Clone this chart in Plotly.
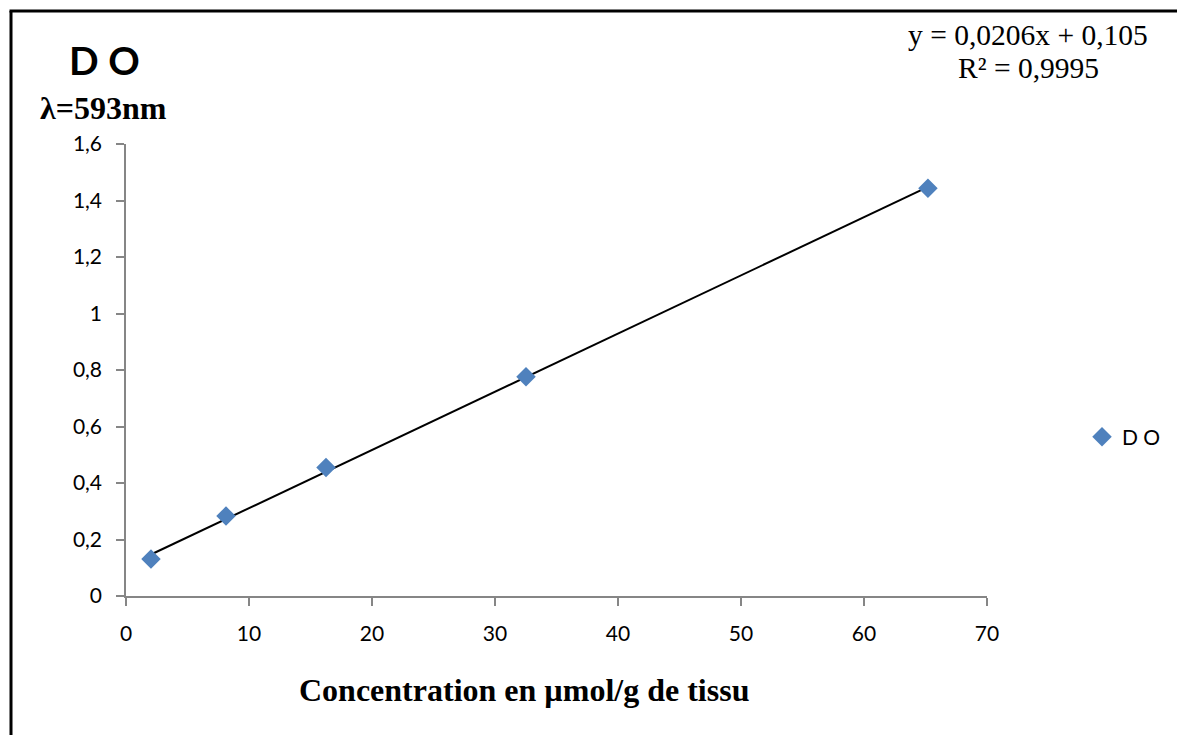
import plotly.graph_objects as go

# Data
conc = [2.03, 8.13, 16.26, 32.52, 65.2]
do_vals = [0.131, 0.283, 0.455, 0.776, 1.443]
slope = 0.0206
intercept = 0.105
x_ticks = [0, 10, 20, 30, 40, 50, 60, 70]
y_ticks = [0, 0.2, 0.4, 0.6, 0.8, 1.0, 1.2, 1.4, 1.6]
series_name = "D O"

W, H = 1177, 735
L, R, T, B = 126, 190, 144, 139
pw, ph = W - L - R, H - T - B

def px(x):
    return (x - L) / pw

def py(y):
    return (H - B - y) / ph

trend_x = [min(conc), max(conc)]
trend_y = [slope * v + intercept for v in trend_x]

fig = go.Figure()
fig.add_trace(go.Scatter(x=trend_x, y=trend_y, mode="lines",
                         line=dict(color="black", width=2), showlegend=False,
                         hoverinfo="skip"))
fig.add_trace(go.Scatter(x=conc, y=do_vals, mode="markers", name=series_name,
                         marker=dict(symbol="diamond", size=15, color="#4F81BD",
                                     line=dict(width=0))))

tick_font = dict(family="Lato, Carlito, sans-serif", size=21, color="black")
axis_common = dict(showgrid=False, zeroline=False, showline=True,
                   linecolor="#868686", linewidth=1.5, ticks="outside",
                   ticklen=8, tickcolor="#868686", tickwidth=1.5,
                   tickfont=tick_font, automargin=False)
fig.update_xaxes(range=[0, 70], tickvals=x_ticks, ticklabelstandoff=10, **axis_common)
fig.update_yaxes(range=[0, 1.6], tickvals=y_ticks, ticklabelstandoff=10,
                 ticktext=[("%g" % v).replace(".", ",") for v in y_ticks], **axis_common)

serif = "Liberation Serif, Times New Roman, serif"
annotations = [
    dict(text="<b>D O</b>", x=px(104), y=py(60), xref="paper", yref="paper",
         showarrow=False, font=dict(family="Lato, sans-serif", size=39, color="black"),
         xanchor="center", yanchor="middle"),
    dict(text="<b>λ=593nm</b>", x=px(103), y=py(108), xref="paper", yref="paper",
         showarrow=False, font=dict(family=serif, size=32, color="black"),
         xanchor="center", yanchor="middle"),
    dict(text="y = 0,0206x + 0,105", x=px(1028), y=py(35), xref="paper", yref="paper",
         showarrow=False, font=dict(family=serif, size=29.5, color="black"),
         xanchor="center", yanchor="middle"),
    dict(text="R² = 0,9995", x=px(1028), y=py(68), xref="paper", yref="paper",
         showarrow=False, font=dict(family=serif, size=29.5, color="black"),
         xanchor="center", yanchor="middle"),
    dict(text="<b>Concentration en µmol/g de tissu</b>", x=px(524), y=py(690), xref="paper", yref="paper",
         showarrow=False, font=dict(family=serif, size=32, color="black"),
         xanchor="center", yanchor="middle"),
]

shapes = [
    dict(type="line", xref="paper", yref="paper", x0=px(11), x1=px(11), y0=py(11), y1=py(760),
         line=dict(color="black", width=3)),
    dict(type="line", xref="paper", yref="paper", x0=px(9.5), x1=px(1190), y0=py(11), y1=py(11),
         line=dict(color="black", width=3)),
]

fig.update_layout(
    width=W, height=H,
    margin=dict(l=L, r=R, t=T, b=B, autoexpand=False),
    plot_bgcolor="white", paper_bgcolor="white",
    separators=", ",
    annotations=annotations, shapes=shapes,
    legend=dict(x=px(1166), y=py(437), xanchor="right", yanchor="middle",
                font=dict(family="Lato, sans-serif", size=21, color="black"),
                bgcolor="rgba(0,0,0,0)", itemwidth=30),
)

fig.write_html("out.html", config={"displayModeBar": False},
               post_script="document.body.style.margin='0';document.body.style.overflow='hidden';")
